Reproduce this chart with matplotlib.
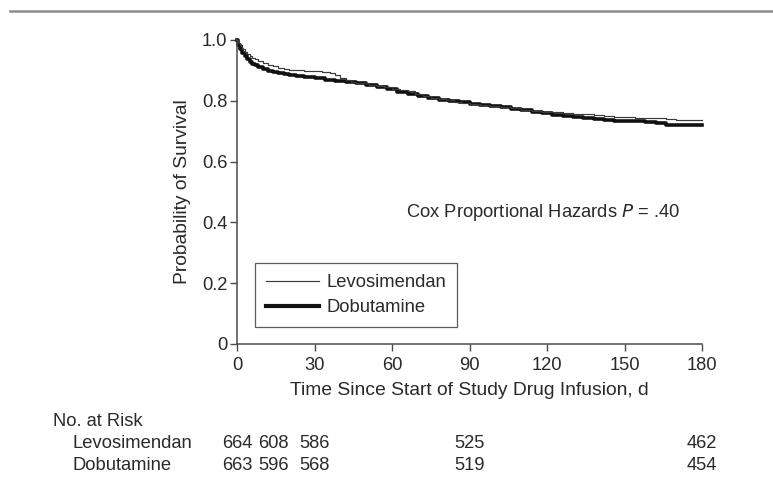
import matplotlib
matplotlib.use("Agg")
import matplotlib.pyplot as plt
from matplotlib.lines import Line2D
import matplotlib.transforms as mtransforms

plt.rcParams['font.family'] = ['Liberation Sans', 'DejaVu Sans']

# Kaplan-Meier step estimates (days, survival probability)
levo_days = [0, 0.5, 1, 2, 3, 4, 5, 6, 7, 8, 10, 12, 14, 16, 18, 20, 23, 26, 30, 33,
             36, 38, 40, 42, 44, 46, 48, 51, 54, 57, 60, 63, 66, 69, 72, 75, 78, 81,
             84, 87, 90, 94, 98, 102, 106, 110, 114, 118, 122, 126, 130, 134, 138,
             142, 146, 150, 154, 158, 162, 166, 170, 174, 178, 180]
levo_surv = [1.0, 0.99, 0.982, 0.972, 0.962, 0.955, 0.948, 0.942, 0.936, 0.931, 0.925,
             0.918, 0.913, 0.908, 0.904, 0.901, 0.900, 0.898, 0.897, 0.895, 0.891,
             0.884, 0.876, 0.868, 0.863, 0.860, 0.857, 0.853, 0.849, 0.845, 0.840,
             0.836, 0.831, 0.822, 0.816, 0.810, 0.805, 0.801, 0.797, 0.793, 0.789,
             0.786, 0.783, 0.779, 0.775, 0.771, 0.767, 0.764, 0.762, 0.761, 0.758,
             0.755, 0.752, 0.749, 0.747, 0.746, 0.745, 0.744, 0.742, 0.740, 0.738,
             0.737, 0.736, 0.736]

dobu_days = [0, 0.5, 1, 2, 3, 4, 5, 6, 7, 8, 10, 12, 14, 16, 18, 20, 23, 26, 30, 34,
             38, 42, 46, 50, 54, 58, 62, 66, 70, 74, 78, 82, 86, 90, 94, 98, 102, 106,
             110, 114, 118, 122, 126, 130, 134, 138, 142, 146, 150, 154, 158, 162,
             166, 170, 174, 178, 180]
dobu_surv = [1.0, 0.985, 0.972, 0.958, 0.946, 0.937, 0.929, 0.922, 0.917, 0.912, 0.905,
             0.899, 0.894, 0.890, 0.887, 0.884, 0.881, 0.878, 0.874, 0.870, 0.866,
             0.861, 0.857, 0.851, 0.845, 0.838, 0.830, 0.822, 0.815, 0.809, 0.804,
             0.800, 0.795, 0.790, 0.786, 0.782, 0.778, 0.773, 0.769, 0.764, 0.759,
             0.754, 0.750, 0.747, 0.744, 0.740, 0.737, 0.735, 0.734, 0.733, 0.731,
             0.727, 0.722, 0.720, 0.720, 0.719, 0.719]

x_ticks = [0, 30, 60, 90, 120, 150, 180]
y_ticks = [0, 0.2, 0.4, 0.6, 0.8, 1.0]
y_tick_labels = ["0", "0.2", "0.4", "0.6", "0.8", "1.0"]

risk_days = [0, 14, 30, 90, 180]
risk_levo = [664, 608, 586, 525, 462]
risk_dobu = [663, 596, 568, 519, 454]

TXT = "#2a2a2a"
FS = 13.2
W, H = 773, 491

fig = plt.figure(figsize=(W / 100, H / 100), dpi=100)
fig.patch.set_facecolor("white")

# header rule
fig.add_artist(Line2D([10 / W, 1.0], [1 - 11 / H, 1 - 11 / H],
                      color="#8c8c8c", lw=1.8, transform=fig.transFigure))

left, right = 237 / W, 702 / W
bottom, top = 1 - 344 / H, 1 - 40 / H
ax = fig.add_axes([left, bottom, right - left, top - bottom])

ax.step(levo_days, levo_surv, where="post", color="#3a3a3a", lw=0.85,
        clip_on=False, zorder=3)
ax.step(dobu_days, dobu_surv, where="post", color="#111111", lw=2.6,
        clip_on=False, zorder=2)

ax.set_xlim(0, 180)
ax.set_ylim(0, 1.0)
for s in ("top", "right"):
    ax.spines[s].set_visible(False)
for s in ("left", "bottom"):
    ax.spines[s].set_color("#4a4a4a")
    ax.spines[s].set_linewidth(1.1)

ax.set_xticks(x_ticks)
ax.set_yticks(y_ticks)
ax.set_yticklabels(y_tick_labels)
ax.tick_params(axis="both", direction="out", length=5, width=1.0,
               color="#4a4a4a", labelcolor=TXT, labelsize=FS)
ax.tick_params(axis="x", pad=4)
ax.tick_params(axis="y", pad=2)

ax.set_xlabel("Time Since Start of Study Drug Infusion, d", fontsize=13.9,
              color=TXT, labelpad=6)
ax.set_ylabel("Probability of Survival", fontsize=13.9, color=TXT, labelpad=8)

ax.text(171.5, 0.432, r"Cox Proportional Hazards $\it{P}$ = .40", fontsize=FS,
        color=TXT, ha="right", va="center")

leg = ax.legend([Line2D([], [], color="#3a3a3a", lw=0.85),
                 Line2D([], [], color="#111111", lw=3.0)],
                ["Levosimendan", "Dobutamine"],
                loc="upper left", bbox_to_anchor=((255 - 237) / 465, (344 - 263) / 304),
                fontsize=FS, frameon=True, fancybox=False, handlelength=2.9,
                handletextpad=0.4, borderpad=0.6, labelspacing=0.45,
                borderaxespad=0)
leg.get_frame().set_edgecolor("#333333")
leg.get_frame().set_linewidth(0.9)
for t in leg.get_texts():
    t.set_color(TXT)

# number-at-risk table
blend = mtransforms.blended_transform_factory(ax.transData, fig.transFigure)
fig.text(53 / W, 1 - 421 / H, "No. at Risk", fontsize=FS, color=TXT,
         ha="left", va="center")
fig.text(73 / W, 1 - 444 / H, "Levosimendan", fontsize=FS, color=TXT,
         ha="left", va="center")
fig.text(73 / W, 1 - 465 / H, "Dobutamine", fontsize=FS, color=TXT,
         ha="left", va="center")
for d, a, b in zip(risk_days, risk_levo, risk_dobu):
    ax.text(d, 1 - 444 / H, str(a), transform=blend, fontsize=FS, color=TXT,
            ha="center", va="center", clip_on=False)
    ax.text(d, 1 - 465 / H, str(b), transform=blend, fontsize=FS, color=TXT,
            ha="center", va="center", clip_on=False)

fig.savefig("out.png", dpi=100)
